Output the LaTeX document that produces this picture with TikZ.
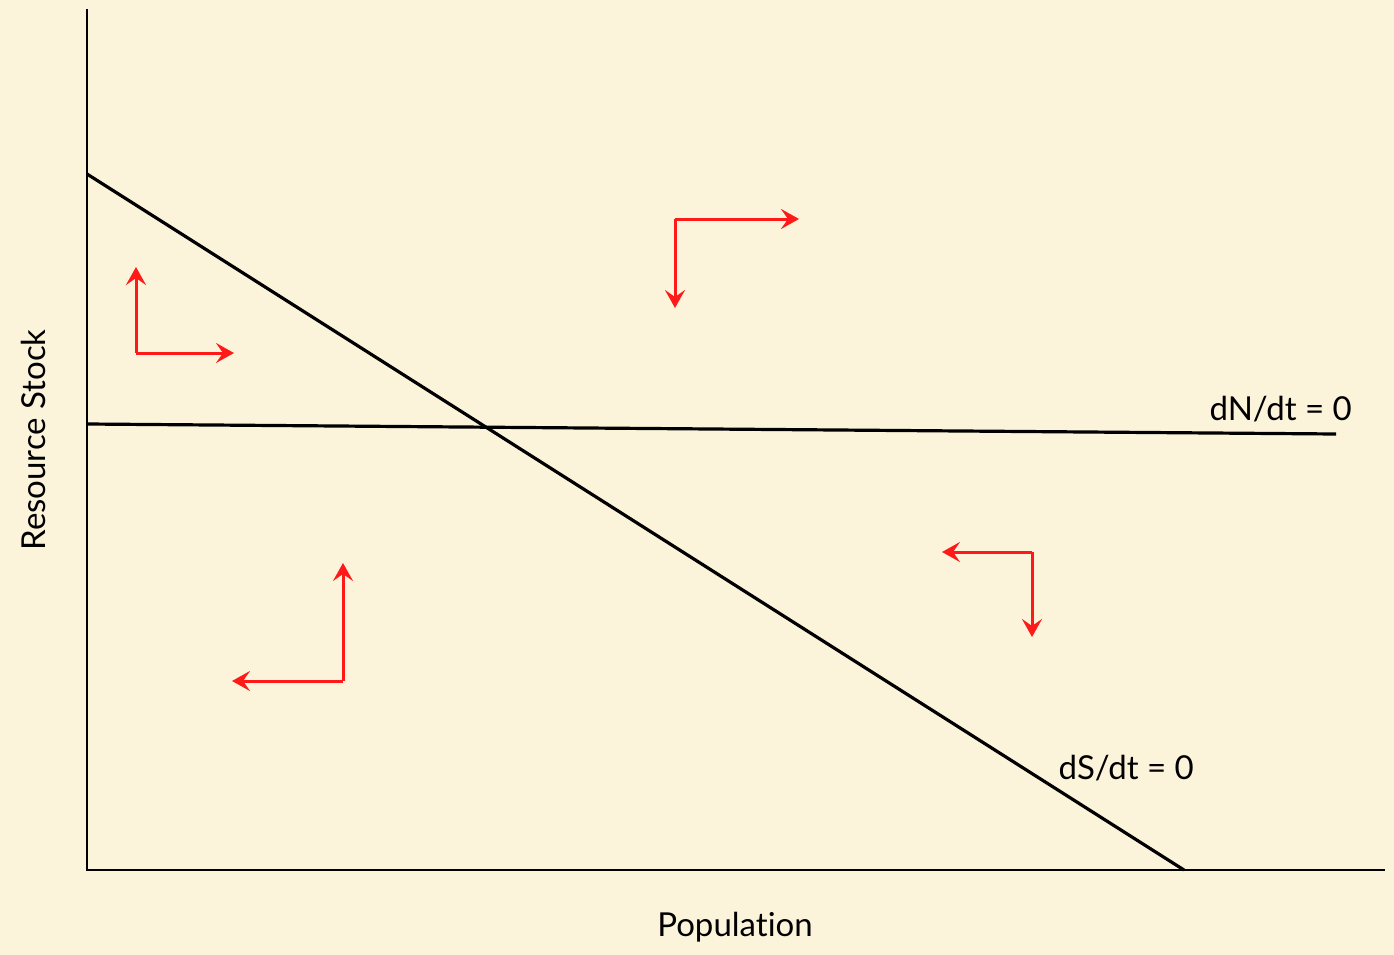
\documentclass[tikz,border=0pt]{standalone}
\usepackage{fontspec}
\setmainfont[RawFeature={-liga;-dlig;-clig}]{Lato}
\usetikzlibrary{arrows.meta}
\definecolor{bg}{HTML}{FCF4DA}
\definecolor{arr}{HTML}{FF1A1A}
\begin{document}
\begin{tikzpicture}[x=1pt,y=-1pt,
  axis/.style={line width=1.6pt,black},
  iso/.style={line width=3.2pt,black},
  flow/.style={line width=3pt,arr,-{Stealth[length=18pt,width=20pt,inset=7pt]}},
  lbl/.style={font=\fontsize{33}{36}\selectfont,inner sep=0pt}]
\fill[bg] (0,0) rectangle (1394,955);
\useasboundingbox (0,0) rectangle (1394,955);
% axes
\coordinate (ytop) at (87,9);
\coordinate (orig) at (87,870);
\coordinate (xend) at (1385,870);
\draw[axis] (ytop) -- (orig) -- (xend);
% isoclines
\coordinate (s0) at (87,174);
\coordinate (s1) at (1184,870);
\coordinate (n0) at (87,424);
\coordinate (n1) at (1336,434);
\draw[iso] (s0) -- (s1);
\draw[iso] (n0) -- (n1);
% labels
\node[lbl,anchor=east] (ln) at (1352,409) {dN/dt = 0};
\node[lbl,anchor=east] (ls) at (1194,768) {dS/dt = 0};
\node[lbl] (lx) at (735,927) {Populat\kern0pt ion};
\node[lbl,rotate=90] (ly) at (33,440) {Resource Stock};
% flow arrows
\coordinate (c1) at (136,353);
\coordinate (c1a) at (136,267);
\coordinate (c1b) at (234,353);
\draw[flow] (c1) -- (c1a);
\draw[flow] (c1) -- (c1b);
\coordinate (c2) at (675,219);
\coordinate (c2a) at (675,308);
\coordinate (c2b) at (799,219);
\draw[flow] (c2) -- (c2a);
\draw[flow] (c2) -- (c2b);
\coordinate (c3) at (1032,552);
\coordinate (c3a) at (942,552);
\coordinate (c3b) at (1032,637);
\draw[flow] (c3) -- (c3a);
\draw[flow] (c3) -- (c3b);
\coordinate (c4) at (343,681);
\coordinate (c4a) at (343,563);
\coordinate (c4b) at (232,681);
\draw[flow] (c4) -- (c4a);
\draw[flow] (c4) -- (c4b);
\end{tikzpicture}
\end{document}
